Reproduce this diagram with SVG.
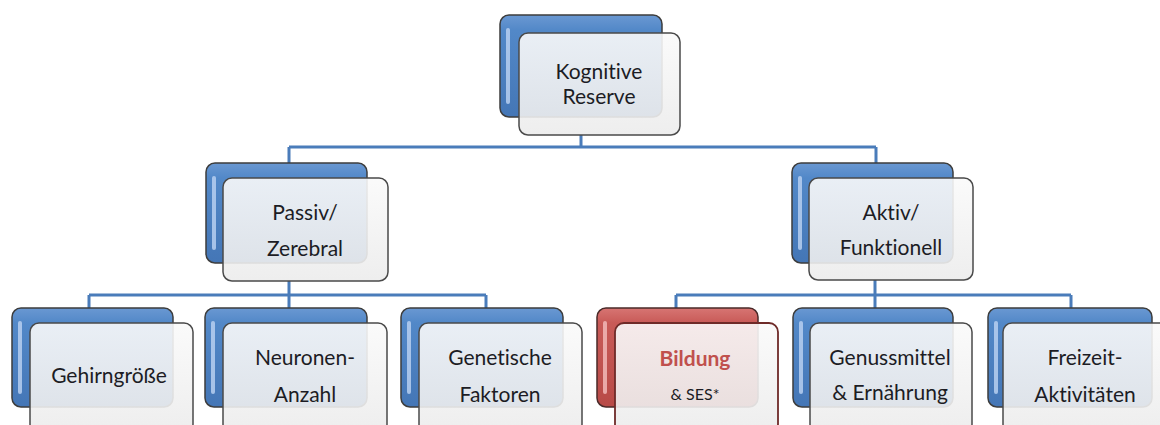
<svg xmlns="http://www.w3.org/2000/svg" width="1160" height="425" viewBox="0 0 1160 425">
<defs>
<linearGradient id="gBlue" x1="0" y1="0" x2="0" y2="1">
<stop offset="0" stop-color="#6a98d2"/>
<stop offset="0.15" stop-color="#5288c8"/>
<stop offset="1" stop-color="#4476b6"/>
</linearGradient>
<linearGradient id="gRed" x1="0" y1="0" x2="0" y2="1">
<stop offset="0" stop-color="#d77573"/>
<stop offset="0.15" stop-color="#c85a57"/>
<stop offset="1" stop-color="#b84a47"/>
</linearGradient>
<linearGradient id="gFront" x1="0" y1="0" x2="0" y2="1">
<stop offset="0" stop-color="#fafafa"/>
<stop offset="1" stop-color="#ececec"/>
</linearGradient>
</defs>
<style>
.back{fill:url(#gBlue);stroke:#3d3d3d;stroke-width:1.5}
.backR{fill:url(#gRed);stroke:#4a2a29;stroke-width:1.5}
.hl{fill:#b7cff0;opacity:0.85}
.hlR{fill:#f1b9b7;opacity:0.85}
.front{fill:url(#gFront);fill-opacity:0.9;stroke:#4a4a4a;stroke-width:1.5}
.frontR{fill:url(#gFront);fill-opacity:0.9;stroke:#6e2a28;stroke-width:1.8}
.t{font-family:Lato,"Open Sans","Liberation Sans",sans-serif;font-size:21px;fill:#1c1c24;text-anchor:middle;font-variant-ligatures:none}
.tb{font-family:Lato,"Open Sans","Liberation Sans",sans-serif;font-size:21px;font-weight:bold;fill:#c0504d;text-anchor:middle}
.ts{font-family:Lato,"Open Sans","Liberation Sans",sans-serif;font-size:16px;fill:#1c1c24;text-anchor:middle}
.c{fill:none;stroke:#4a7cba;stroke-width:3}
</style>
<g id="connectors">
<path class="c" d="M581,135 V147 M289,147 H876 M289,147 V163 M876,147 V163"/>
<path class="c" d="M289,281 V308 M89,295 H486 M89,295 V308 M486,295 V308"/>
<path class="c" d="M875,280 V308 M676,295 H1071 M676,295 V308 M1071,295 V308"/>
</g>
<g id="kognitive-reserve">
<rect class="back" x="500" y="15" width="162" height="102" rx="9"/>
<rect class="hl" x="506" y="28" width="4" height="76" rx="2"/>
<rect class="front" x="519" y="33" width="161" height="102" rx="9"/>
<text class="t" x="599" y="79">Kognitive</text>
<text class="t" x="599" y="104">Reserve</text>
</g>
<g id="passiv">
<rect class="back" x="206" y="163" width="161" height="100" rx="9"/>
<rect class="hl" x="212" y="176" width="4" height="74" rx="2"/>
<rect class="front" x="223" y="178" width="165" height="103" rx="9"/>
<text class="t" x="305" y="220">Passiv/</text>
<text class="t" x="305" y="256">Zerebral</text>
</g>
<g id="aktiv">
<rect class="back" x="792" y="163" width="161" height="100" rx="9"/>
<rect class="hl" x="798" y="176" width="4" height="74" rx="2"/>
<rect class="front" x="809" y="178" width="164" height="102" rx="9"/>
<text class="t" x="891" y="220">Aktiv/</text>
<text class="t" x="891" y="255">Funktionell</text>
</g>
<g id="gehirngroesse">
<rect class="back" x="12" y="308" width="161" height="99" rx="9"/>
<rect class="hl" x="18" y="321" width="4" height="73" rx="2"/>
<rect class="front" x="30" y="323" width="163" height="110" rx="9"/>
<text class="t" x="109" y="383">Gehirngröße</text>
</g>
<g id="neuronen-anzahl">
<rect class="back" x="205" y="308" width="162" height="99" rx="9"/>
<rect class="hl" x="211" y="321" width="4" height="73" rx="2"/>
<rect class="front" x="223" y="323" width="164" height="110" rx="9"/>
<text class="t" x="305" y="365">Neuronen-</text>
<text class="t" x="305" y="402">Anzahl</text>
</g>
<g id="genetische-faktoren">
<rect class="back" x="401" y="308" width="162" height="99" rx="9"/>
<rect class="hl" x="407" y="321" width="4" height="73" rx="2"/>
<rect class="front" x="419" y="323" width="163" height="110" rx="9"/>
<text class="t" x="500" y="365">Genetische</text>
<text class="t" x="500" y="402">Faktoren</text>
</g>
<g id="bildung">
<rect class="backR" x="597" y="308" width="161" height="99" rx="9"/>
<rect class="hlR" x="603" y="321" width="4" height="73" rx="2"/>
<rect class="frontR" x="615" y="323" width="163" height="110" rx="9"/>
<text class="tb" x="695" y="366">Bildung</text>
<text class="ts" x="695" y="400">&amp; SES*</text>
</g>
<g id="genussmittel">
<rect class="back" x="793" y="308" width="160" height="99" rx="9"/>
<rect class="hl" x="799" y="321" width="4" height="73" rx="2"/>
<rect class="front" x="810" y="323" width="162" height="110" rx="9"/>
<text class="t" x="890" y="365">Genussmittel</text>
<text class="t" x="890" y="400">&amp; Ernährung</text>
</g>
<g id="freizeit">
<rect class="back" x="988" y="308" width="164" height="99" rx="9"/>
<rect class="hl" x="994" y="321" width="4" height="73" rx="2"/>
<rect class="front" x="1003" y="323" width="165" height="110" rx="9"/>
<text class="t" x="1085" y="365">Freizeit-</text>
<text class="t" x="1085" y="402">Aktivitäten</text>
</g>
</svg>
